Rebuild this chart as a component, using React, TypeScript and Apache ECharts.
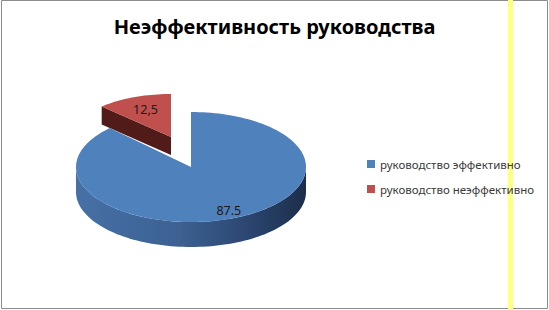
import React, { useEffect, useRef } from "react";
import * as echarts from "echarts";

const titleText = "Неэффективность руководства";
const categories = ["руководство эффективно", "руководство неэффективно"];
const values = [87.5, 12.5];
const valueLabels = ["87.5", "12,5"];

const topColors = ["#4F81BD", "#C0504D"];
const faceColors = ["#2E4C78", "#511B19"];

// geometry of the 3D pie (style only)
const PIE = { cx: 191, cy: 167, rx: 115, ry: 55, depth: 25 };
const EXPLODE = [
  { dx: 0, dy: 0, sx: 1, sy: 1, depth: 25, labelR: 0.86 },
  { dx: -20, dy: -30, sx: 98 / 115, sy: 43 / 55, depth: 18, labelR: 0.68 },
];

function pt(cx: number, cy: number, rx: number, ry: number, deg: number, off = 0) {
  const t = (deg * Math.PI) / 180;
  return [cx + rx * Math.sin(t), cy - ry * Math.cos(t) + off];
}
function arc(cx: number, cy: number, rx: number, ry: number, a0: number, a1: number, off = 0) {
  const steps = Math.max(2, Math.ceil(Math.abs(a1 - a0) / 2));
  const out: number[][] = [];
  for (let k = 0; k <= steps; k++) out.push(pt(cx, cy, rx, ry, a0 + ((a1 - a0) * k) / steps, off));
  return out;
}

function makeRender(i: number) {
  return () => {
    const total = values.reduce((a, b) => a + b, 0);
    const before = values.slice(0, i).reduce((a, b) => a + b, 0);
    const start = (before / total) * 360;
    const end = start + (values[i] / total) * 360;
    const e = EXPLODE[i];
    const cx = PIE.cx + e.dx;
    const cy = PIE.cy + e.dy;
    const rx = PIE.rx * e.sx;
    const ry = PIE.ry * e.sy;
    const d = e.depth;
    const children: any[] = [];
    const a0 = Math.max(start, 90);
    const a1 = Math.min(end, 270);
    if (a1 > a0) {
      const pts = arc(cx, cy, rx, ry, a0, a1).concat(arc(cx, cy, rx, ry, a1, a0, d));
      children.push({
        type: "polygon",
        shape: { points: pts },
        style: {
          fill:
            i === 0
              ? new echarts.graphic.LinearGradient(0, 0, 1, 0, [
                  { offset: 0, color: "#4770A6" },
                  { offset: 0.45, color: "#3C6192" },
                  { offset: 0.75, color: "#2B4670" },
                  { offset: 1, color: "#1C2D4B" },
                ])
              : faceColors[i],
        },
      });
    }
    const radial = (ang: number) => {
      const p = pt(cx, cy, rx, ry, ang);
      children.push({
        type: "polygon",
        shape: { points: [[cx, cy], p, [p[0], p[1] + d], [cx, cy + d]] },
        style: { fill: faceColors[i] },
      });
    };
    if (Math.sin((start * Math.PI) / 180) < -0.01) radial(start);
    if (Math.sin((end * Math.PI) / 180) > 0.01) radial(end);
    children.push({
      type: "polygon",
      shape: { points: [[cx, cy]].concat(arc(cx, cy, rx, ry, start, end)) },
      style: { fill: topColors[i] },
    });
    const mid = (start + end) / 2;
    const lp = pt(cx, cy, rx * e.labelR, ry * e.labelR, mid);
    children.push({
      type: "text",
      x: lp[0],
      y: lp[1],
      style: {
        text: valueLabels[i],
        fill: "#1a1a1a",
        font: "12.5px 'Noto Sans'",
        align: "center",
        verticalAlign: "middle",
      },
    });
    return { type: "group", children };
  };
}

export default function App() {
  const ref = useRef<HTMLDivElement>(null);
  useEffect(() => {
    if (!ref.current) return;
    const chart = echarts.init(ref.current, undefined, { renderer: "svg" });
    chart.setOption({
      animation: false,
      backgroundColor: "#ffffff",
      title: {
        text: titleText,
        left: "center",
        top: 16,
        padding: 0,
        textStyle: { fontFamily: "Noto Sans", fontSize: 20, fontWeight: "bold", color: "#000" },
      },
      legend: {
        orient: "vertical",
        left: 367,
        top: 157,
        padding: 0,
        icon: "rect",
        itemWidth: 8,
        itemHeight: 8,
        itemGap: 11,
        data: categories,
        textStyle: { fontFamily: "Noto Sans", fontSize: 11.5, color: "#3a3a3a", lineHeight: 14 },
      },
      graphic: [
        {
          type: "rect",
          z: 0,
          shape: { x: 1.5, y: 0.5, width: 546, height: 308 },
          style: { fill: "none", stroke: "#8c8c8c", lineWidth: 1 },
        },
        {
          type: "rect",
          z: 0,
          shape: { x: 508, y: 0, width: 5, height: 310 },
          style: { fill: "#FFFF80" },
        },
      ],
      series: categories.map((name, i) => ({
        type: "custom",
        name,
        coordinateSystem: "none",
        z: i === 0 ? 3 : 2,
        itemStyle: { color: topColors[i] },
        data: [values[i]],
        renderItem: makeRender(i),
      })),
    });
    return () => chart.dispose();
  }, []);
  return (
    <div
      ref={ref}
      style={{ position: "absolute", left: 0, top: 0, width: 549, height: 310, background: "#fff" }}
    />
  );
}
